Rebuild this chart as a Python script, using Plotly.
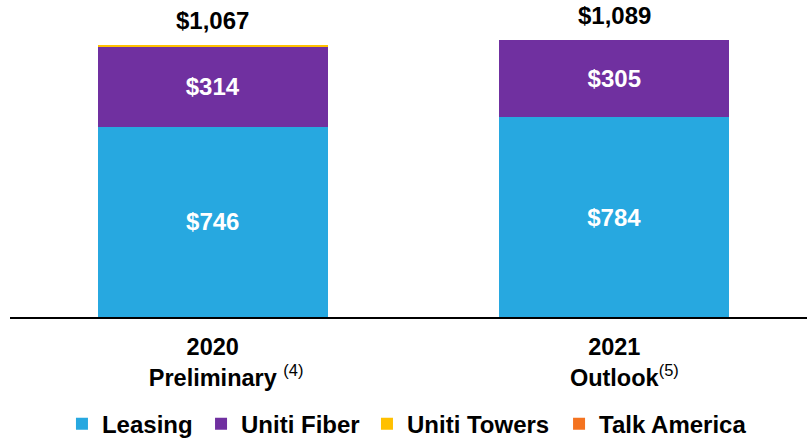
import plotly.graph_objects as go

# data
periods = ["2020 Preliminary", "2021 Outlook"]
period_years = ["2020", "2021"]
period_names = ["Preliminary", "Outlook"]
period_notes = [" <sup>(4)</sup>", "<sup>(5)</sup>"]
leasing = [746, 784]
uniti_fiber = [314, 305]
uniti_towers = [7, 0]
talk_america = [0, 0]
totals = [1067, 1089]

COLORS = {
    "Leasing": "#27A8E0",
    "Uniti Fiber": "#7030A0",
    "Uniti Towers": "#FFC000",
    "Talk America": "#F47320",
}

ARIAL = "Arial, Liberation Sans"
LABEL_FONT = dict(family=ARIAL, size=24, color="white")

# the footnote mark hangs to the right; an invisible copy on the left keeps the word centred
ghost = "<span style='color:rgba(0,0,0,0)'>{}</span>"
tick_labels = [
    f"<b>{yr}</b><br>{ghost.format(note)}<b>{nm}</b>{note}"
    for yr, nm, note in zip(period_years, period_names, period_notes)
]

x = list(range(len(periods)))
fig = go.Figure()

# one legend per series so the entries can be spaced like the original slide
series = [
    ("Leasing", leasing, True, "legend", 0.0652),
    ("Uniti Fiber", uniti_fiber, True, "legend2", 0.2397),
    ("Uniti Towers", uniti_towers, False, "legend3", 0.4479),
    ("Talk America", talk_america, False, "legend4", 0.6889),
]
legends = {}
for name, vals, show_text, leg, lx in series:
    fig.add_trace(go.Bar(
        name=name,
        x=x,
        y=vals,
        width=0.573,
        legend=leg,
        marker=dict(color=COLORS[name], line=dict(width=0)),
        text=[f"<b>${v:,}</b>" for v in vals] if show_text else None,
        textposition="inside" if show_text else "none",
        insidetextanchor="middle",
        textangle=0,
        constraintext="none",
        textfont=LABEL_FONT,
        hoverinfo="name+y",
    ))
    legends[leg] = dict(
        orientation="h",
        x=lx, xanchor="left",
        y=-0.276, yanchor="top",
        font=dict(family=ARIAL, size=24, color="black", weight="bold"),
        itemclick=False,
        bgcolor="rgba(0,0,0,0)",
    )

for xi, t in zip(x, totals):
    fig.add_annotation(
        x=xi, y=t, text=f"<b>${t:,}</b>", showarrow=False,
        yanchor="bottom", yshift=9,
        font=dict(family=ARIAL, size=24, color="black"),
    )

fig.update_layout(
    width=807,
    height=440,
    barmode="stack",
    plot_bgcolor="white",
    paper_bgcolor="white",
    margin=dict(l=10, r=0, t=10, b=123, autoexpand=False),
    showlegend=True,
    xaxis=dict(
        range=[-0.505, 1.48],
        tickvals=x,
        ticktext=tick_labels,
        showline=True,
        linecolor="black",
        linewidth=2,
        showgrid=False,
        zeroline=False,
        ticks="",
        automargin=False,
        ticklabelstandoff=8,
        tickfont=dict(family=ARIAL, size=23.5, color="black"),
    ),
    yaxis=dict(
        range=[0, 1205],
        visible=False,
        showgrid=False,
        zeroline=False,
        automargin=False,
    ),
    **legends,
)

fig.write_html(
    "out.html",
    config={"displayModeBar": False},
    post_script="document.body.style.margin='0';",
)
